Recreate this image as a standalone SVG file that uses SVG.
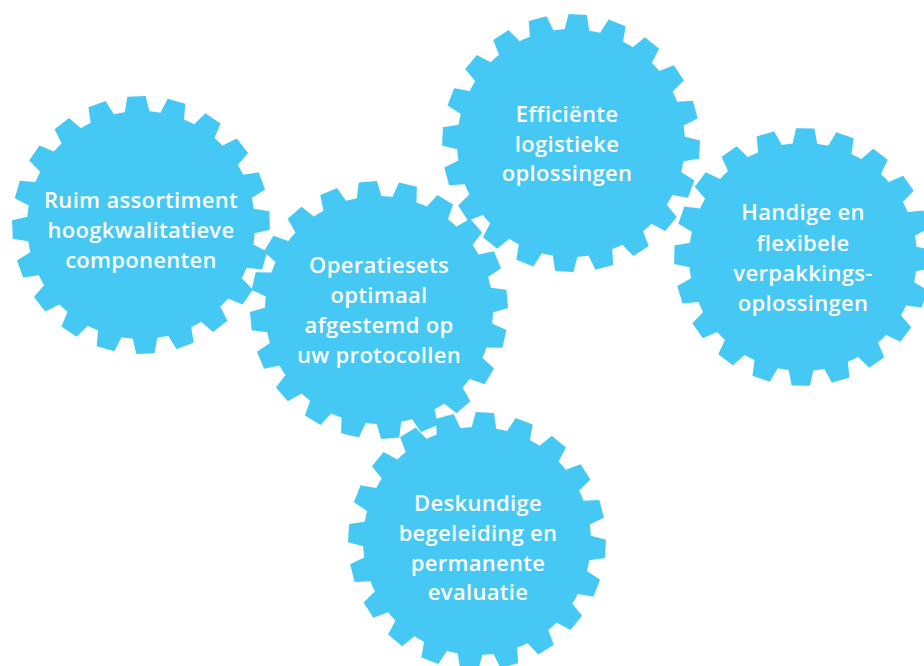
<svg xmlns="http://www.w3.org/2000/svg" xmlns:xlink="http://www.w3.org/1999/xlink" width="924" height="666" viewBox="0 0 924 666">
<style>
.g{fill:#46C8F5}
.t{font-family:"Open Sans","Liberation Sans",sans-serif;font-weight:600;font-size:22px;letter-spacing:0.3px;fill:#ffffff;text-anchor:middle}
</style>
<defs>
<polygon id="tooth" points="-12.3,-104 -12.3,-113.3 -9.15,-128.7 9.15,-128.7 12.3,-113.3 12.3,-104"/>
<g id="gear" class="g">
<circle r="114"/>
<use href="#tooth"/>
<use href="#tooth" transform="rotate(18)"/>
<use href="#tooth" transform="rotate(36)"/>
<use href="#tooth" transform="rotate(54)"/>
<use href="#tooth" transform="rotate(72)"/>
<use href="#tooth" transform="rotate(90)"/>
<use href="#tooth" transform="rotate(108)"/>
<use href="#tooth" transform="rotate(126)"/>
<use href="#tooth" transform="rotate(144)"/>
<use href="#tooth" transform="rotate(162)"/>
<use href="#tooth" transform="rotate(180)"/>
<use href="#tooth" transform="rotate(198)"/>
<use href="#tooth" transform="rotate(216)"/>
<use href="#tooth" transform="rotate(234)"/>
<use href="#tooth" transform="rotate(252)"/>
<use href="#tooth" transform="rotate(270)"/>
<use href="#tooth" transform="rotate(288)"/>
<use href="#tooth" transform="rotate(306)"/>
<use href="#tooth" transform="rotate(324)"/>
<use href="#tooth" transform="rotate(342)"/>
</g>
</defs>
<g id="gear-components">
<use href="#gear" transform="translate(141,225) rotate(-2)"/>
</g>
<g id="gear-operatiesets">
<use href="#gear" transform="translate(379,310) rotate(-5)"/>
</g>
<g id="gear-logistiek">
<use href="#gear" transform="translate(571,143) rotate(3)"/>
</g>
<g id="gear-verpakking">
<use href="#gear" transform="translate(803,257) rotate(1)"/>
</g>
<g id="gear-begeleiding">
<use href="#gear" transform="translate(477,541) rotate(3.5)"/>
</g>
<g id="labels">
<text class="t" x="141" y="208">Ruim assortiment</text>
<text class="t" x="141" y="238">hoogkwalitatieve</text>
<text class="t" x="141" y="268">componenten</text>
<text class="t" x="379" y="273">Operatiesets</text>
<text class="t" x="379" y="303">optimaal</text>
<text class="t" x="379" y="333">afgestemd op</text>
<text class="t" x="379" y="363">uw protocollen</text>
<text class="t" x="567" y="122">Efficiënte</text>
<text class="t" x="567" y="151.5">logistieke</text>
<text class="t" x="567" y="181">oplossingen</text>
<text class="t" x="803" y="220">Handige en</text>
<text class="t" x="803" y="250.5">flexibele</text>
<text class="t" x="803" y="280.5">verpakkings-</text>
<text class="t" x="803" y="310.5">oplossingen</text>
<text class="t" x="478" y="511">Deskundige</text>
<text class="t" x="478" y="541">begeleiding en</text>
<text class="t" x="478" y="571">permanente</text>
<text class="t" x="478" y="600">evaluatie</text>
</g>
</svg>
